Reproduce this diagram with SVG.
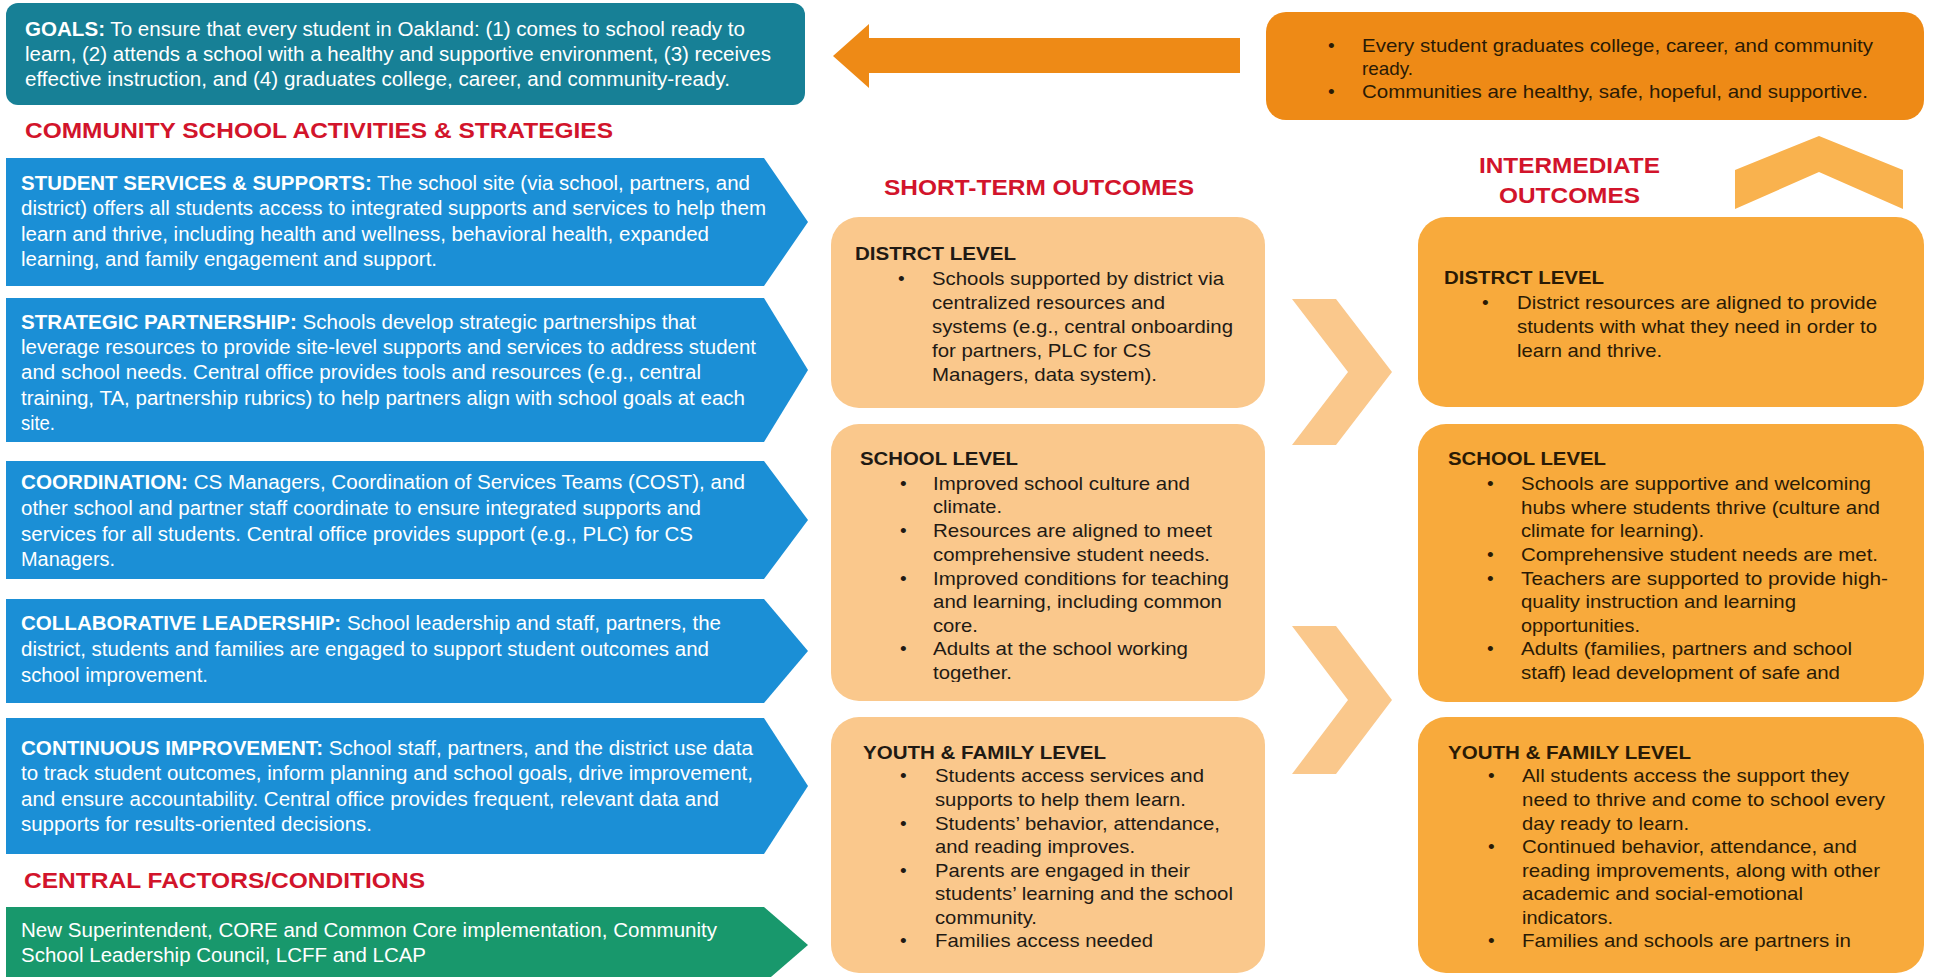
<svg xmlns="http://www.w3.org/2000/svg" width="1933" height="977" viewBox="0 0 1933 977">
  <style>
    text { font-family: "Liberation Sans", Arial, sans-serif; }
    .w { fill: #ffffff; font-size: 20px; }
    .b { font-weight: bold; }
    .red { fill: #D2142B; font-weight: bold; font-size: 22px; }
    .dk { fill: #1f1a14; font-size: 19px; }
    .dk2 { fill: #2a1a05; font-size: 19px; }
    .blue { fill: #1B8FD6; }
    .green { fill: #18986C; }
    .teal { fill: #178096; }
    .st { fill: #FAC88C; }
    .im { fill: #F8AA3C; }
    .top { fill: #EE8A16; }
  </style>
  <defs>
    <clipPath id="clipStSchool"><rect x="831" y="424" width="434" height="258"/></clipPath>
    <clipPath id="clipImSchool"><rect x="1418" y="424" width="506" height="258"/></clipPath>
    <clipPath id="clipStYouth"><rect x="831" y="717" width="434" height="238"/></clipPath>
    <clipPath id="clipImYouth"><rect x="1418" y="717" width="506" height="238"/></clipPath>
  </defs>

  <rect width="1933" height="977" fill="#ffffff"/>

  <!-- Goals -->
  <g id="goals">
    <rect class="teal" x="6" y="3" width="799" height="102" rx="12"/>
    <text class="w" x="25" y="36" textLength="720" lengthAdjust="spacingAndGlyphs"><tspan class="b">GOALS:</tspan> To ensure that every student in Oakland: (1) comes to school ready to</text>
    <text class="w" x="25" y="61" textLength="746" lengthAdjust="spacingAndGlyphs">learn, (2) attends a school with a healthy and supportive environment, (3) receives</text>
    <text class="w" x="25" y="86" textLength="705" lengthAdjust="spacingAndGlyphs">effective instruction, and (4) graduates college, career, and community-ready.</text>
  </g>

  <!-- Long-term outcomes -->
  <g id="long-term-outcomes">
    <rect class="top" x="1266" y="12" width="658" height="108" rx="20"/>
    <text class="dk2" x="1328" y="52">•</text>
    <text class="dk2" x="1362" y="52" textLength="511" lengthAdjust="spacingAndGlyphs">Every student graduates college, career, and community</text>
    <text class="dk2" x="1362" y="75" textLength="51" lengthAdjust="spacingAndGlyphs">ready.</text>
    <text class="dk2" x="1328" y="98">•</text>
    <text class="dk2" x="1362" y="98" textLength="506" lengthAdjust="spacingAndGlyphs">Communities are healthy, safe, hopeful, and supportive.</text>
  </g>

  <!-- Section titles -->
  <g id="titles">
    <text class="red" x="25" y="138" textLength="588" lengthAdjust="spacingAndGlyphs">COMMUNITY SCHOOL ACTIVITIES &amp; STRATEGIES</text>
    <text class="red" x="24" y="888" textLength="401" lengthAdjust="spacingAndGlyphs">CENTRAL FACTORS/CONDITIONS</text>
    <text class="red" x="884" y="195" textLength="310" lengthAdjust="spacingAndGlyphs">SHORT-TERM OUTCOMES</text>
    <text class="red" x="1479" y="173" textLength="181" lengthAdjust="spacingAndGlyphs">INTERMEDIATE</text>
    <text class="red" x="1499" y="203" textLength="141" lengthAdjust="spacingAndGlyphs">OUTCOMES</text>
  </g>

  <!-- Strategy arrows -->
  <g id="student-services">
    <path class="blue" d="M6,158 H764 L808,222 L764,286 H6 Z"/>
    <text class="w" x="21" y="190" textLength="729" lengthAdjust="spacingAndGlyphs"><tspan class="b">STUDENT SERVICES &amp; SUPPORTS:</tspan> The school site (via school, partners, and</text>
    <text class="w" x="21" y="215" textLength="745" lengthAdjust="spacingAndGlyphs">district) offers all students access to integrated supports and services to help them</text>
    <text class="w" x="21" y="241" textLength="688" lengthAdjust="spacingAndGlyphs">learn and thrive, including health and wellness, behavioral health, expanded</text>
    <text class="w" x="21" y="266" textLength="416" lengthAdjust="spacingAndGlyphs">learning, and family engagement and support.</text>
  </g>
  <g id="strategic-partnership">
    <path class="blue" d="M6,298 H764 L808,370 L764,442 H6 Z"/>
    <text class="w" x="21" y="329" textLength="675" lengthAdjust="spacingAndGlyphs"><tspan class="b">STRATEGIC PARTNERSHIP:</tspan> Schools develop strategic partnerships that</text>
    <text class="w" x="21" y="354" textLength="735" lengthAdjust="spacingAndGlyphs">leverage resources to provide site-level supports and services to address student</text>
    <text class="w" x="21" y="379" textLength="680" lengthAdjust="spacingAndGlyphs">and school needs. Central office provides tools and resources (e.g., central</text>
    <text class="w" x="21" y="405" textLength="724" lengthAdjust="spacingAndGlyphs">training, TA, partnership rubrics) to help partners align with school goals at each</text>
    <text class="w" x="21" y="430" textLength="34" lengthAdjust="spacingAndGlyphs">site.</text>
  </g>
  <g id="coordination">
    <path class="blue" d="M6,461 H764 L808,520 L764,579 H6 Z"/>
    <text class="w" x="21" y="489" textLength="724" lengthAdjust="spacingAndGlyphs"><tspan class="b">COORDINATION:</tspan> CS Managers, Coordination of Services Teams (COST), and</text>
    <text class="w" x="21" y="515" textLength="680" lengthAdjust="spacingAndGlyphs">other school and partner staff coordinate to ensure integrated supports and</text>
    <text class="w" x="21" y="541" textLength="672" lengthAdjust="spacingAndGlyphs">services for all students. Central office provides support (e.g., PLC) for CS</text>
    <text class="w" x="21" y="566" textLength="94" lengthAdjust="spacingAndGlyphs">Managers.</text>
  </g>
  <g id="collaborative-leadership">
    <path class="blue" d="M6,599 H764 L808,651 L764,703 H6 Z"/>
    <text class="w" x="21" y="630" textLength="700" lengthAdjust="spacingAndGlyphs"><tspan class="b">COLLABORATIVE LEADERSHIP:</tspan> School leadership and staff, partners, the</text>
    <text class="w" x="21" y="656" textLength="688" lengthAdjust="spacingAndGlyphs">district, students and families are engaged to support student outcomes and</text>
    <text class="w" x="21" y="682" textLength="187" lengthAdjust="spacingAndGlyphs">school improvement.</text>
  </g>
  <g id="continuous-improvement">
    <path class="blue" d="M6,718 H764 L808,786 L764,854 H6 Z"/>
    <text class="w" x="21" y="755" textLength="732" lengthAdjust="spacingAndGlyphs"><tspan class="b">CONTINUOUS IMPROVEMENT:</tspan> School staff, partners, and the district use data</text>
    <text class="w" x="21" y="780" textLength="732" lengthAdjust="spacingAndGlyphs">to track student outcomes, inform planning and school goals, drive improvement,</text>
    <text class="w" x="21" y="806" textLength="698" lengthAdjust="spacingAndGlyphs">and ensure accountability. Central office provides frequent, relevant data and</text>
    <text class="w" x="21" y="831" textLength="351" lengthAdjust="spacingAndGlyphs">supports for results-oriented decisions.</text>
  </g>
  <g id="central-factors">
    <path class="green" d="M6,907 H764 L808,945 L764,983 H6 Z"/>
    <text class="w" x="21" y="937" textLength="696" lengthAdjust="spacingAndGlyphs">New Superintendent, CORE and Common Core implementation, Community</text>
    <text class="w" x="21" y="962" textLength="405" lengthAdjust="spacingAndGlyphs">School Leadership Council, LCFF and LCAP</text>
  </g>

  <!-- Short-term outcomes -->
  <g id="st-district">
    <rect class="st" x="831" y="217" width="434" height="191" rx="28"/>
    <text class="dk b" x="855" y="260" textLength="161" lengthAdjust="spacingAndGlyphs">DISTRCT LEVEL</text>
    <text class="dk" x="898" y="285">•</text>
    <text class="dk" x="932" y="285" textLength="292" lengthAdjust="spacingAndGlyphs">Schools supported by district via</text>
    <text class="dk" x="932" y="309" textLength="233" lengthAdjust="spacingAndGlyphs">centralized resources and</text>
    <text class="dk" x="932" y="333" textLength="301" lengthAdjust="spacingAndGlyphs">systems (e.g., central onboarding</text>
    <text class="dk" x="932" y="357" textLength="219" lengthAdjust="spacingAndGlyphs">for partners, PLC for CS</text>
    <text class="dk" x="932" y="381" textLength="225" lengthAdjust="spacingAndGlyphs">Managers, data system).</text>
  </g>
  <g id="st-school">
    <rect class="st" x="831" y="424" width="434" height="277" rx="28"/>
    <g clip-path="url(#clipStSchool)">
      <text class="dk b" x="860" y="465" textLength="158" lengthAdjust="spacingAndGlyphs">SCHOOL LEVEL</text>
      <text class="dk" x="900" y="490">•</text>
      <text class="dk" x="933" y="490" textLength="257" lengthAdjust="spacingAndGlyphs">Improved school culture and</text>
      <text class="dk" x="933" y="513" textLength="69" lengthAdjust="spacingAndGlyphs">climate.</text>
      <text class="dk" x="900" y="537">•</text>
      <text class="dk" x="933" y="537" textLength="279" lengthAdjust="spacingAndGlyphs">Resources are aligned to meet</text>
      <text class="dk" x="933" y="561" textLength="277" lengthAdjust="spacingAndGlyphs">comprehensive student needs.</text>
      <text class="dk" x="900" y="585">•</text>
      <text class="dk" x="933" y="585" textLength="296" lengthAdjust="spacingAndGlyphs">Improved conditions for teaching</text>
      <text class="dk" x="933" y="608" textLength="289" lengthAdjust="spacingAndGlyphs">and learning, including common</text>
      <text class="dk" x="933" y="632" textLength="45" lengthAdjust="spacingAndGlyphs">core.</text>
      <text class="dk" x="900" y="655">•</text>
      <text class="dk" x="933" y="655" textLength="255" lengthAdjust="spacingAndGlyphs">Adults at the school working</text>
      <text class="dk" x="933" y="679" textLength="79" lengthAdjust="spacingAndGlyphs">together.</text>
    </g>
  </g>
  <g id="st-youth">
    <rect class="st" x="831" y="717" width="434" height="256" rx="28"/>
    <g clip-path="url(#clipStYouth)">
      <text class="dk b" x="863" y="759" textLength="243" lengthAdjust="spacingAndGlyphs">YOUTH &amp; FAMILY LEVEL</text>
      <text class="dk" x="900" y="782">•</text>
      <text class="dk" x="935" y="782" textLength="269" lengthAdjust="spacingAndGlyphs">Students access services and</text>
      <text class="dk" x="935" y="806" textLength="251" lengthAdjust="spacingAndGlyphs">supports to help them learn.</text>
      <text class="dk" x="900" y="830">•</text>
      <text class="dk" x="935" y="830" textLength="285" lengthAdjust="spacingAndGlyphs">Students’ behavior, attendance,</text>
      <text class="dk" x="935" y="853" textLength="200" lengthAdjust="spacingAndGlyphs">and reading improves.</text>
      <text class="dk" x="900" y="877">•</text>
      <text class="dk" x="935" y="877" textLength="255" lengthAdjust="spacingAndGlyphs">Parents are engaged in their</text>
      <text class="dk" x="935" y="900" textLength="298" lengthAdjust="spacingAndGlyphs">students’ learning and the school</text>
      <text class="dk" x="935" y="924" textLength="102" lengthAdjust="spacingAndGlyphs">community.</text>
      <text class="dk" x="900" y="947">•</text>
      <text class="dk" x="935" y="947" textLength="218" lengthAdjust="spacingAndGlyphs">Families access needed</text>
    </g>
  </g>

  <!-- Intermediate outcomes -->
  <g id="im-district">
    <rect class="im" x="1418" y="217" width="506" height="190" rx="28"/>
    <text class="dk2 b" x="1444" y="284" textLength="160" lengthAdjust="spacingAndGlyphs">DISTRCT LEVEL</text>
    <text class="dk2" x="1482" y="309">•</text>
    <text class="dk2" x="1517" y="309" textLength="360" lengthAdjust="spacingAndGlyphs">District resources are aligned to provide</text>
    <text class="dk2" x="1517" y="333" textLength="360" lengthAdjust="spacingAndGlyphs">students with what they need in order to</text>
    <text class="dk2" x="1517" y="357" textLength="145" lengthAdjust="spacingAndGlyphs">learn and thrive.</text>
  </g>
  <g id="im-school">
    <rect class="im" x="1418" y="424" width="506" height="278" rx="28"/>
    <g clip-path="url(#clipImSchool)">
      <text class="dk2 b" x="1448" y="465" textLength="158" lengthAdjust="spacingAndGlyphs">SCHOOL LEVEL</text>
      <text class="dk2" x="1487" y="490">•</text>
      <text class="dk2" x="1521" y="490" textLength="350" lengthAdjust="spacingAndGlyphs">Schools are supportive and welcoming</text>
      <text class="dk2" x="1521" y="514" textLength="359" lengthAdjust="spacingAndGlyphs">hubs where students thrive (culture and</text>
      <text class="dk2" x="1521" y="537" textLength="183" lengthAdjust="spacingAndGlyphs">climate for learning).</text>
      <text class="dk2" x="1487" y="561">•</text>
      <text class="dk2" x="1521" y="561" textLength="357" lengthAdjust="spacingAndGlyphs">Comprehensive student needs are met.</text>
      <text class="dk2" x="1487" y="585">•</text>
      <text class="dk2" x="1521" y="585" textLength="367" lengthAdjust="spacingAndGlyphs">Teachers are supported to provide high-</text>
      <text class="dk2" x="1521" y="608" textLength="275" lengthAdjust="spacingAndGlyphs">quality instruction and learning</text>
      <text class="dk2" x="1521" y="632" textLength="119" lengthAdjust="spacingAndGlyphs">opportunities.</text>
      <text class="dk2" x="1487" y="655">•</text>
      <text class="dk2" x="1521" y="655" textLength="331" lengthAdjust="spacingAndGlyphs">Adults (families, partners and school</text>
      <text class="dk2" x="1521" y="679" textLength="319" lengthAdjust="spacingAndGlyphs">staff) lead development of safe and</text>
    </g>
  </g>
  <g id="im-youth">
    <rect class="im" x="1418" y="717" width="506" height="256" rx="28"/>
    <g clip-path="url(#clipImYouth)">
      <text class="dk2 b" x="1448" y="759" textLength="243" lengthAdjust="spacingAndGlyphs">YOUTH &amp; FAMILY LEVEL</text>
      <text class="dk2" x="1488" y="782">•</text>
      <text class="dk2" x="1522" y="782" textLength="327" lengthAdjust="spacingAndGlyphs">All students access the support they</text>
      <text class="dk2" x="1522" y="806" textLength="363" lengthAdjust="spacingAndGlyphs">need to thrive and come to school every</text>
      <text class="dk2" x="1522" y="830" textLength="167" lengthAdjust="spacingAndGlyphs">day ready to learn.</text>
      <text class="dk2" x="1488" y="853">•</text>
      <text class="dk2" x="1522" y="853" textLength="335" lengthAdjust="spacingAndGlyphs">Continued behavior, attendance, and</text>
      <text class="dk2" x="1522" y="877" textLength="358" lengthAdjust="spacingAndGlyphs">reading improvements, along with other</text>
      <text class="dk2" x="1522" y="900" textLength="281" lengthAdjust="spacingAndGlyphs">academic and social-emotional</text>
      <text class="dk2" x="1522" y="924" textLength="91" lengthAdjust="spacingAndGlyphs">indicators.</text>
      <text class="dk2" x="1488" y="947">•</text>
      <text class="dk2" x="1522" y="947" textLength="329" lengthAdjust="spacingAndGlyphs">Families and schools are partners in</text>
    </g>
  </g>

  <!-- Flow arrows and chevrons -->
  <g id="connectors">
    <path class="top" d="M833,56 L869,24 V38 H1240 V73 H869 V88 Z"/>
    <path class="st" d="M1292,299 H1336 L1392,372 L1336,445 H1292 L1348,372 Z"/>
    <path class="st" d="M1292,626 H1336 L1392,700 L1336,774 H1292 L1348,700 Z"/>
    <path fill="#F9B24E" d="M1735,170 L1819,136 L1903,170 V209 L1819,172 L1735,209 Z"/>
  </g>
</svg>
